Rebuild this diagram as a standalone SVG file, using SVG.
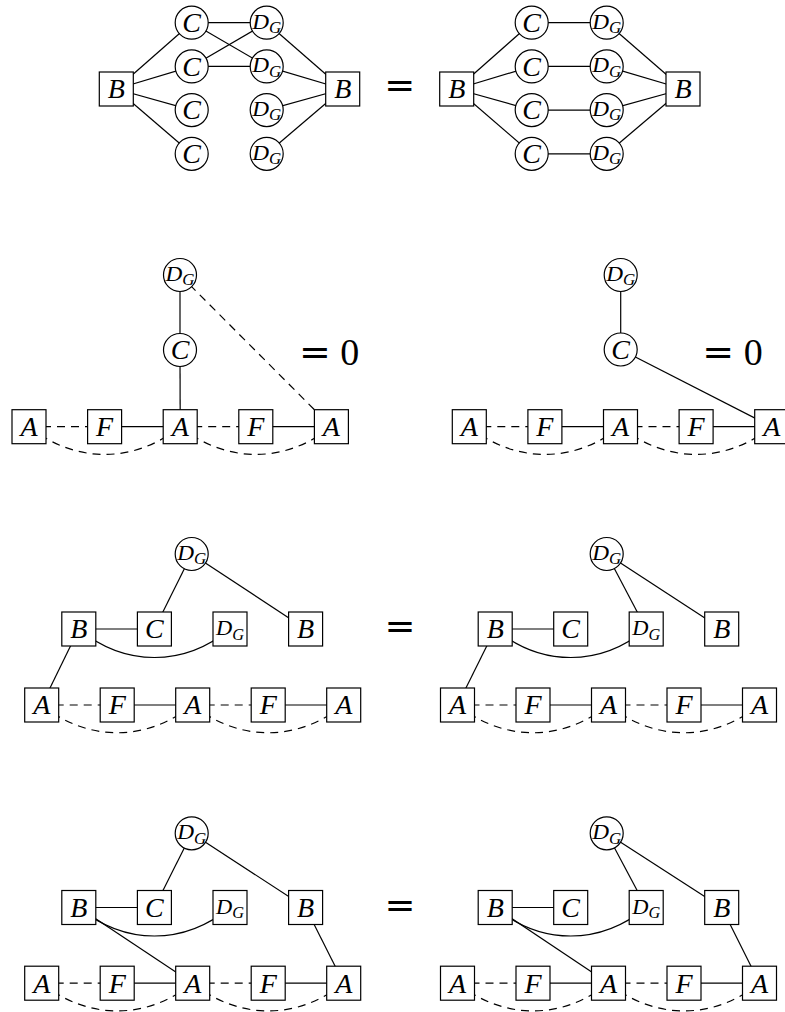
<svg xmlns="http://www.w3.org/2000/svg" width="785" height="1012" viewBox="0 0 785 1012" font-family="Liberation Serif">
<style>
.n{fill:#fff;stroke:#000;stroke-width:1.2}
.e{fill:none;stroke:#000;stroke-width:1.2}
.d{fill:none;stroke:#000;stroke-width:1.2;stroke-dasharray:8 6}
.t{font-style:italic;font-size:28px;text-anchor:middle}
.g{font-style:italic;font-size:22px;text-anchor:middle}
.s{font-size:16px}
.eq{font-size:37px;text-anchor:middle}
.z{font-size:38px}
</style>
<rect width="785" height="1012" fill="#fff"/>
<g id="connectors">
<line class="e" x1="116.3" y1="89" x2="191.7" y2="22.7"/>
<line class="e" x1="116.3" y1="89" x2="191.7" y2="66.4"/>
<line class="e" x1="116.3" y1="89" x2="191.7" y2="110.1"/>
<line class="e" x1="116.3" y1="89" x2="191.7" y2="153.8"/>
<line class="e" x1="191.7" y1="22.7" x2="266.7" y2="22.7"/>
<line class="e" x1="191.7" y1="22.7" x2="266.7" y2="66.4"/>
<line class="e" x1="191.7" y1="66.4" x2="266.7" y2="22.7"/>
<line class="e" x1="191.7" y1="66.4" x2="266.7" y2="66.4"/>
<line class="e" x1="266.7" y1="22.7" x2="342.7" y2="89"/>
<line class="e" x1="266.7" y1="66.4" x2="342.7" y2="89"/>
<line class="e" x1="266.7" y1="110.1" x2="342.7" y2="89"/>
<line class="e" x1="266.7" y1="153.8" x2="342.7" y2="89"/>
<line class="e" x1="456.7" y1="89" x2="531.7" y2="22.7"/>
<line class="e" x1="456.7" y1="89" x2="531.7" y2="66.4"/>
<line class="e" x1="456.7" y1="89" x2="531.7" y2="110.1"/>
<line class="e" x1="456.7" y1="89" x2="531.7" y2="153.8"/>
<line class="e" x1="531.7" y1="22.7" x2="606.7" y2="22.7"/>
<line class="e" x1="531.7" y1="66.4" x2="606.7" y2="66.4"/>
<line class="e" x1="531.7" y1="110.1" x2="606.7" y2="110.1"/>
<line class="e" x1="531.7" y1="153.8" x2="606.7" y2="153.8"/>
<line class="e" x1="606.7" y1="22.7" x2="683" y2="89"/>
<line class="e" x1="606.7" y1="66.4" x2="683" y2="89"/>
<line class="e" x1="606.7" y1="110.1" x2="683" y2="89"/>
<line class="e" x1="606.7" y1="153.8" x2="683" y2="89"/>
<line class="e" x1="180" y1="275" x2="180" y2="350"/>
<line class="e" x1="180" y1="350" x2="180.2" y2="426.7"/>
<line class="d" x1="180" y1="275" x2="331.4" y2="426.7"/>
<line class="d" x1="29" y1="426.7" x2="104.6" y2="426.7"/>
<line class="e" x1="104.6" y1="426.7" x2="180.2" y2="426.7"/>
<line class="d" x1="180.2" y1="426.7" x2="255.8" y2="426.7"/>
<line class="e" x1="255.8" y1="426.7" x2="331.4" y2="426.7"/>
<path class="d" d="M29,426.7 C75,463.7 134.2,463.7 180.2,426.7"/>
<path class="d" d="M180.2,426.7 C226.2,463.7 285.4,463.7 331.4,426.7"/>
<line class="e" x1="620.7" y1="275" x2="620.7" y2="349.5"/>
<line class="e" x1="620.7" y1="349.5" x2="771.7" y2="426.7"/>
<line class="d" x1="469.3" y1="426.7" x2="544.9" y2="426.7"/>
<line class="e" x1="544.9" y1="426.7" x2="620.5" y2="426.7"/>
<line class="d" x1="620.5" y1="426.7" x2="696.1" y2="426.7"/>
<line class="e" x1="696.1" y1="426.7" x2="771.7" y2="426.7"/>
<path class="d" d="M469.3,426.7 C515.3,463.7 574.5,463.7 620.5,426.7"/>
<path class="d" d="M620.5,426.7 C666.5,463.7 725.7,463.7 771.7,426.7"/>
<line class="e" x1="191.7" y1="554" x2="154.4" y2="629"/>
<line class="e" x1="191.7" y1="554" x2="305.6" y2="629"/>
<line class="e" x1="78.8" y1="629" x2="154.4" y2="629"/>
<path class="e" d="M78.8,629 C124.8,667 184,667 230,629"/>
<line class="e" x1="78.8" y1="629" x2="41.7" y2="705"/>
<line class="d" x1="41.7" y1="705" x2="117.2" y2="705"/>
<line class="e" x1="117.2" y1="705" x2="192.7" y2="705"/>
<line class="d" x1="192.7" y1="705" x2="268.2" y2="705"/>
<line class="e" x1="268.2" y1="705" x2="343.7" y2="705"/>
<path class="d" d="M41.7,705 C87.7,742 146.7,742 192.7,705"/>
<path class="d" d="M192.7,705 C238.7,742 297.7,742 343.7,705"/>
<line class="e" x1="606.7" y1="554" x2="646.2" y2="629"/>
<line class="e" x1="606.7" y1="554" x2="721.7" y2="629"/>
<line class="e" x1="495.2" y1="629" x2="570.7" y2="629"/>
<path class="e" d="M495.2,629 C541.2,667 600.2,667 646.2,629"/>
<line class="e" x1="495.2" y1="629" x2="457.5" y2="705"/>
<line class="d" x1="457.5" y1="705" x2="533" y2="705"/>
<line class="e" x1="533" y1="705" x2="608.5" y2="705"/>
<line class="d" x1="608.5" y1="705" x2="684" y2="705"/>
<line class="e" x1="684" y1="705" x2="759.5" y2="705"/>
<path class="d" d="M457.5,705 C503.5,742 562.5,742 608.5,705"/>
<path class="d" d="M608.5,705 C654.5,742 713.5,742 759.5,705"/>
<line class="e" x1="191.7" y1="833.3" x2="154.4" y2="907.5"/>
<line class="e" x1="191.7" y1="833.3" x2="305.6" y2="907.5"/>
<line class="e" x1="78.8" y1="907.5" x2="154.4" y2="907.5"/>
<path class="e" d="M78.8,907.5 C124.8,945.5 184,945.5 230,907.5"/>
<line class="e" x1="78.8" y1="907.5" x2="192.7" y2="983.2"/>
<line class="e" x1="305.6" y1="907.5" x2="343.7" y2="983.2"/>
<line class="d" x1="41.7" y1="983.2" x2="117.2" y2="983.2"/>
<line class="e" x1="117.2" y1="983.2" x2="192.7" y2="983.2"/>
<line class="d" x1="192.7" y1="983.2" x2="268.2" y2="983.2"/>
<line class="e" x1="268.2" y1="983.2" x2="343.7" y2="983.2"/>
<path class="d" d="M41.7,983.2 C87.7,1020.2 146.7,1020.2 192.7,983.2"/>
<path class="d" d="M192.7,983.2 C238.7,1020.2 297.7,1020.2 343.7,983.2"/>
<line class="e" x1="606.7" y1="833.3" x2="646.2" y2="907.5"/>
<line class="e" x1="606.7" y1="833.3" x2="721.7" y2="907.5"/>
<line class="e" x1="495.2" y1="907.5" x2="570.7" y2="907.5"/>
<path class="e" d="M495.2,907.5 C541.2,945.5 600.2,945.5 646.2,907.5"/>
<line class="e" x1="495.2" y1="907.5" x2="608.5" y2="983.2"/>
<line class="e" x1="721.7" y1="907.5" x2="759.5" y2="983.2"/>
<line class="d" x1="457.5" y1="983.2" x2="533" y2="983.2"/>
<line class="e" x1="533" y1="983.2" x2="608.5" y2="983.2"/>
<line class="d" x1="608.5" y1="983.2" x2="684" y2="983.2"/>
<line class="e" x1="684" y1="983.2" x2="759.5" y2="983.2"/>
<path class="d" d="M457.5,983.2 C503.5,1020.2 562.5,1020.2 608.5,983.2"/>
<path class="d" d="M608.5,983.2 C654.5,1020.2 713.5,1020.2 759.5,983.2"/>
</g>

<g id="tl-B1"><rect class="n" x="99.3" y="72" width="34" height="34"/><text class="t" font-family="Liberation Serif" x="116.3" y="98.3">B</text></g>
<g id="tl-C1"><circle class="n" cx="191.7" cy="22.7" r="16.5"/><text class="t" font-family="Liberation Serif" x="191.7" y="32">C</text></g>
<g id="tl-C2"><circle class="n" cx="191.7" cy="66.4" r="16.5"/><text class="t" font-family="Liberation Serif" x="191.7" y="75.7">C</text></g>
<g id="tl-C3"><circle class="n" cx="191.7" cy="110.1" r="16.5"/><text class="t" font-family="Liberation Serif" x="191.7" y="119.4">C</text></g>
<g id="tl-C4"><circle class="n" cx="191.7" cy="153.8" r="16.5"/><text class="t" font-family="Liberation Serif" x="191.7" y="163.1">C</text></g>
<g id="tl-D1"><circle class="n" cx="266.7" cy="22.7" r="16.5"/><text class="g" font-family="Liberation Serif" x="266.7" y="28.5" textLength="29" lengthAdjust="spacingAndGlyphs">D<tspan class="s" dy="4.5">G</tspan></text></g>
<g id="tl-D2"><circle class="n" cx="266.7" cy="66.4" r="16.5"/><text class="g" font-family="Liberation Serif" x="266.7" y="72.2" textLength="29" lengthAdjust="spacingAndGlyphs">D<tspan class="s" dy="4.5">G</tspan></text></g>
<g id="tl-D3"><circle class="n" cx="266.7" cy="110.1" r="16.5"/><text class="g" font-family="Liberation Serif" x="266.7" y="115.9" textLength="29" lengthAdjust="spacingAndGlyphs">D<tspan class="s" dy="4.5">G</tspan></text></g>
<g id="tl-D4"><circle class="n" cx="266.7" cy="153.8" r="16.5"/><text class="g" font-family="Liberation Serif" x="266.7" y="159.6" textLength="29" lengthAdjust="spacingAndGlyphs">D<tspan class="s" dy="4.5">G</tspan></text></g>
<g id="tl-B2"><rect class="n" x="325.7" y="72" width="34" height="34"/><text class="t" font-family="Liberation Serif" x="342.7" y="98.3">B</text></g>
<text class="eq" x="399.7" y="98" font-family="DejaVu Serif">=</text>
<g id="tr-B1"><rect class="n" x="439.7" y="72" width="34" height="34"/><text class="t" font-family="Liberation Serif" x="456.7" y="98.3">B</text></g>
<g id="tr-C1"><circle class="n" cx="531.7" cy="22.7" r="16.5"/><text class="t" font-family="Liberation Serif" x="531.7" y="32">C</text></g>
<g id="tr-C2"><circle class="n" cx="531.7" cy="66.4" r="16.5"/><text class="t" font-family="Liberation Serif" x="531.7" y="75.7">C</text></g>
<g id="tr-C3"><circle class="n" cx="531.7" cy="110.1" r="16.5"/><text class="t" font-family="Liberation Serif" x="531.7" y="119.4">C</text></g>
<g id="tr-C4"><circle class="n" cx="531.7" cy="153.8" r="16.5"/><text class="t" font-family="Liberation Serif" x="531.7" y="163.1">C</text></g>
<g id="tr-D1"><circle class="n" cx="606.7" cy="22.7" r="16.5"/><text class="g" font-family="Liberation Serif" x="606.7" y="28.5" textLength="29" lengthAdjust="spacingAndGlyphs">D<tspan class="s" dy="4.5">G</tspan></text></g>
<g id="tr-D2"><circle class="n" cx="606.7" cy="66.4" r="16.5"/><text class="g" font-family="Liberation Serif" x="606.7" y="72.2" textLength="29" lengthAdjust="spacingAndGlyphs">D<tspan class="s" dy="4.5">G</tspan></text></g>
<g id="tr-D3"><circle class="n" cx="606.7" cy="110.1" r="16.5"/><text class="g" font-family="Liberation Serif" x="606.7" y="115.9" textLength="29" lengthAdjust="spacingAndGlyphs">D<tspan class="s" dy="4.5">G</tspan></text></g>
<g id="tr-D4"><circle class="n" cx="606.7" cy="153.8" r="16.5"/><text class="g" font-family="Liberation Serif" x="606.7" y="159.6" textLength="29" lengthAdjust="spacingAndGlyphs">D<tspan class="s" dy="4.5">G</tspan></text></g>
<g id="tr-B2"><rect class="n" x="666" y="72" width="34" height="34"/><text class="t" font-family="Liberation Serif" x="683" y="98.3">B</text></g>

<g id="r2l-D"><circle class="n" cx="180" cy="275" r="16.5"/><text class="g" font-family="Liberation Serif" x="180" y="280.8" textLength="29" lengthAdjust="spacingAndGlyphs">D<tspan class="s" dy="4.5">G</tspan></text></g>
<g id="r2l-C"><circle class="n" cx="180" cy="350" r="16.5"/><text class="t" font-family="Liberation Serif" x="180" y="359.3">C</text></g>
<g id="r2l-A1"><rect class="n" x="12" y="409.7" width="34" height="34"/><text class="t" font-family="Liberation Serif" x="29" y="436">A</text></g>
<g id="r2l-F1"><rect class="n" x="87.6" y="409.7" width="34" height="34"/><text class="t" font-family="Liberation Serif" x="104.6" y="436">F</text></g>
<g id="r2l-A2"><rect class="n" x="163.2" y="409.7" width="34" height="34"/><text class="t" font-family="Liberation Serif" x="180.2" y="436">A</text></g>
<g id="r2l-F2"><rect class="n" x="238.8" y="409.7" width="34" height="34"/><text class="t" font-family="Liberation Serif" x="255.8" y="436">F</text></g>
<g id="r2l-A3"><rect class="n" x="314.4" y="409.7" width="34" height="34"/><text class="t" font-family="Liberation Serif" x="331.4" y="436">A</text></g>
<text class="z" font-family="Liberation Serif" x="299" y="365"><tspan font-family="DejaVu Serif">=</tspan> 0</text>
<g id="r2r-D"><circle class="n" cx="620.7" cy="275" r="16.5"/><text class="g" font-family="Liberation Serif" x="620.7" y="280.8" textLength="29" lengthAdjust="spacingAndGlyphs">D<tspan class="s" dy="4.5">G</tspan></text></g>
<g id="r2r-C"><circle class="n" cx="620.7" cy="349.5" r="16.5"/><text class="t" font-family="Liberation Serif" x="620.7" y="358.8">C</text></g>
<g id="r2r-A1"><rect class="n" x="452.3" y="409.7" width="34" height="34"/><text class="t" font-family="Liberation Serif" x="469.3" y="436">A</text></g>
<g id="r2r-F1"><rect class="n" x="527.9" y="409.7" width="34" height="34"/><text class="t" font-family="Liberation Serif" x="544.9" y="436">F</text></g>
<g id="r2r-A2"><rect class="n" x="603.5" y="409.7" width="34" height="34"/><text class="t" font-family="Liberation Serif" x="620.5" y="436">A</text></g>
<g id="r2r-F2"><rect class="n" x="679.1" y="409.7" width="34" height="34"/><text class="t" font-family="Liberation Serif" x="696.1" y="436">F</text></g>
<g id="r2r-A3"><rect class="n" x="754.7" y="409.7" width="34" height="34"/><text class="t" font-family="Liberation Serif" x="771.7" y="436">A</text></g>
<text class="z" font-family="Liberation Serif" x="702.3" y="365"><tspan font-family="DejaVu Serif">=</tspan> 0</text>

<g id="r3l-D"><circle class="n" cx="191.7" cy="554" r="16.5"/><text class="g" font-family="Liberation Serif" x="191.7" y="559.8" textLength="29" lengthAdjust="spacingAndGlyphs">D<tspan class="s" dy="4.5">G</tspan></text></g>
<g id="r3l-B1"><rect class="n" x="61.8" y="612" width="34" height="34"/><text class="t" font-family="Liberation Serif" x="78.8" y="638.3">B</text></g>
<g id="r3l-C"><rect class="n" x="137.4" y="612" width="34" height="34"/><text class="t" font-family="Liberation Serif" x="154.4" y="638.3">C</text></g>
<g id="r3l-DG"><rect class="n" x="213" y="612" width="34" height="34"/><text class="g" font-family="Liberation Serif" x="230" y="635" textLength="28" lengthAdjust="spacingAndGlyphs">D<tspan class="s" dy="4.5">G</tspan></text></g>
<g id="r3l-B2"><rect class="n" x="288.6" y="612" width="34" height="34"/><text class="t" font-family="Liberation Serif" x="305.6" y="638.3">B</text></g>
<g id="r3l-A1"><rect class="n" x="24.7" y="688" width="34" height="34"/><text class="t" font-family="Liberation Serif" x="41.7" y="714.3">A</text></g>
<g id="r3l-F1"><rect class="n" x="100.2" y="688" width="34" height="34"/><text class="t" font-family="Liberation Serif" x="117.2" y="714.3">F</text></g>
<g id="r3l-A2"><rect class="n" x="175.7" y="688" width="34" height="34"/><text class="t" font-family="Liberation Serif" x="192.7" y="714.3">A</text></g>
<g id="r3l-F2"><rect class="n" x="251.2" y="688" width="34" height="34"/><text class="t" font-family="Liberation Serif" x="268.2" y="714.3">F</text></g>
<g id="r3l-A3"><rect class="n" x="326.7" y="688" width="34" height="34"/><text class="t" font-family="Liberation Serif" x="343.7" y="714.3">A</text></g>
<text class="eq" x="400" y="638.5" font-family="DejaVu Serif">=</text>
<g id="r3r-D"><circle class="n" cx="606.7" cy="554" r="16.5"/><text class="g" font-family="Liberation Serif" x="606.7" y="559.8" textLength="29" lengthAdjust="spacingAndGlyphs">D<tspan class="s" dy="4.5">G</tspan></text></g>
<g id="r3r-B1"><rect class="n" x="478.2" y="612" width="34" height="34"/><text class="t" font-family="Liberation Serif" x="495.2" y="638.3">B</text></g>
<g id="r3r-C"><rect class="n" x="553.7" y="612" width="34" height="34"/><text class="t" font-family="Liberation Serif" x="570.7" y="638.3">C</text></g>
<g id="r3r-DG"><rect class="n" x="629.2" y="612" width="34" height="34"/><text class="g" font-family="Liberation Serif" x="646.2" y="635" textLength="28" lengthAdjust="spacingAndGlyphs">D<tspan class="s" dy="4.5">G</tspan></text></g>
<g id="r3r-B2"><rect class="n" x="704.7" y="612" width="34" height="34"/><text class="t" font-family="Liberation Serif" x="721.7" y="638.3">B</text></g>
<g id="r3r-A1"><rect class="n" x="440.5" y="688" width="34" height="34"/><text class="t" font-family="Liberation Serif" x="457.5" y="714.3">A</text></g>
<g id="r3r-F1"><rect class="n" x="516" y="688" width="34" height="34"/><text class="t" font-family="Liberation Serif" x="533" y="714.3">F</text></g>
<g id="r3r-A2"><rect class="n" x="591.5" y="688" width="34" height="34"/><text class="t" font-family="Liberation Serif" x="608.5" y="714.3">A</text></g>
<g id="r3r-F2"><rect class="n" x="667" y="688" width="34" height="34"/><text class="t" font-family="Liberation Serif" x="684" y="714.3">F</text></g>
<g id="r3r-A3"><rect class="n" x="742.5" y="688" width="34" height="34"/><text class="t" font-family="Liberation Serif" x="759.5" y="714.3">A</text></g>

<g id="r4l-D"><circle class="n" cx="191.7" cy="833.3" r="16.5"/><text class="g" font-family="Liberation Serif" x="191.7" y="839.1" textLength="29" lengthAdjust="spacingAndGlyphs">D<tspan class="s" dy="4.5">G</tspan></text></g>
<g id="r4l-B1"><rect class="n" x="61.8" y="890.5" width="34" height="34"/><text class="t" font-family="Liberation Serif" x="78.8" y="916.8">B</text></g>
<g id="r4l-C"><rect class="n" x="137.4" y="890.5" width="34" height="34"/><text class="t" font-family="Liberation Serif" x="154.4" y="916.8">C</text></g>
<g id="r4l-DG"><rect class="n" x="213" y="890.5" width="34" height="34"/><text class="g" font-family="Liberation Serif" x="230" y="913.5" textLength="28" lengthAdjust="spacingAndGlyphs">D<tspan class="s" dy="4.5">G</tspan></text></g>
<g id="r4l-B2"><rect class="n" x="288.6" y="890.5" width="34" height="34"/><text class="t" font-family="Liberation Serif" x="305.6" y="916.8">B</text></g>
<g id="r4l-A1"><rect class="n" x="24.7" y="966.2" width="34" height="34"/><text class="t" font-family="Liberation Serif" x="41.7" y="992.5">A</text></g>
<g id="r4l-F1"><rect class="n" x="100.2" y="966.2" width="34" height="34"/><text class="t" font-family="Liberation Serif" x="117.2" y="992.5">F</text></g>
<g id="r4l-A2"><rect class="n" x="175.7" y="966.2" width="34" height="34"/><text class="t" font-family="Liberation Serif" x="192.7" y="992.5">A</text></g>
<g id="r4l-F2"><rect class="n" x="251.2" y="966.2" width="34" height="34"/><text class="t" font-family="Liberation Serif" x="268.2" y="992.5">F</text></g>
<g id="r4l-A3"><rect class="n" x="326.7" y="966.2" width="34" height="34"/><text class="t" font-family="Liberation Serif" x="343.7" y="992.5">A</text></g>
<text class="eq" x="400" y="917.7" font-family="DejaVu Serif">=</text>
<g id="r4r-D"><circle class="n" cx="606.7" cy="833.3" r="16.5"/><text class="g" font-family="Liberation Serif" x="606.7" y="839.1" textLength="29" lengthAdjust="spacingAndGlyphs">D<tspan class="s" dy="4.5">G</tspan></text></g>
<g id="r4r-B1"><rect class="n" x="478.2" y="890.5" width="34" height="34"/><text class="t" font-family="Liberation Serif" x="495.2" y="916.8">B</text></g>
<g id="r4r-C"><rect class="n" x="553.7" y="890.5" width="34" height="34"/><text class="t" font-family="Liberation Serif" x="570.7" y="916.8">C</text></g>
<g id="r4r-DG"><rect class="n" x="629.2" y="890.5" width="34" height="34"/><text class="g" font-family="Liberation Serif" x="646.2" y="913.5" textLength="28" lengthAdjust="spacingAndGlyphs">D<tspan class="s" dy="4.5">G</tspan></text></g>
<g id="r4r-B2"><rect class="n" x="704.7" y="890.5" width="34" height="34"/><text class="t" font-family="Liberation Serif" x="721.7" y="916.8">B</text></g>
<g id="r4r-A1"><rect class="n" x="440.5" y="966.2" width="34" height="34"/><text class="t" font-family="Liberation Serif" x="457.5" y="992.5">A</text></g>
<g id="r4r-F1"><rect class="n" x="516" y="966.2" width="34" height="34"/><text class="t" font-family="Liberation Serif" x="533" y="992.5">F</text></g>
<g id="r4r-A2"><rect class="n" x="591.5" y="966.2" width="34" height="34"/><text class="t" font-family="Liberation Serif" x="608.5" y="992.5">A</text></g>
<g id="r4r-F2"><rect class="n" x="667" y="966.2" width="34" height="34"/><text class="t" font-family="Liberation Serif" x="684" y="992.5">F</text></g>
<g id="r4r-A3"><rect class="n" x="742.5" y="966.2" width="34" height="34"/><text class="t" font-family="Liberation Serif" x="759.5" y="992.5">A</text></g>
</svg>
